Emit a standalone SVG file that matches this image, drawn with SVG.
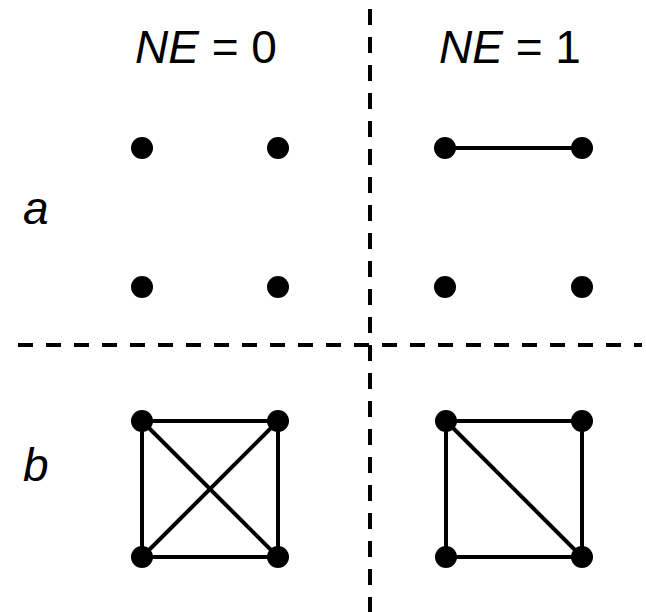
<svg xmlns="http://www.w3.org/2000/svg" width="646" height="612" viewBox="0 0 646 612">
<style>
.lbl{font-family:"Liberation Sans",Arial,sans-serif;font-size:46px;fill:#000}
.it{font-style:italic}
.edge{stroke:#000;stroke-width:4;fill:none}
.dash{stroke:#000;stroke-width:4;fill:none}
.node{fill:#000}
</style>
<rect width="646" height="612" fill="#fff"/>
<g id="dividers">
<line class="dash" x1="370" y1="9" x2="370" y2="612" stroke-dasharray="16 12"/>
<line class="dash" x1="18" y1="345" x2="642" y2="345" stroke-dasharray="15 13"/>
</g>
<g id="labels">
<text class="lbl" x="135" y="63"><tspan class="it">NE</tspan> = 0</text>
<text class="lbl" x="439" y="63"><tspan class="it">NE</tspan> = 1</text>
<text class="lbl it" x="23" y="224">a</text>
<text class="lbl it" x="23" y="481">b</text>
</g>
<g id="connectors">
<line class="edge" x1="445" y1="148" x2="582" y2="148"/>
<line class="edge" x1="142" y1="421" x2="278" y2="421"/>
<line class="edge" x1="142" y1="557" x2="278" y2="557"/>
<line class="edge" x1="142" y1="421" x2="142" y2="557"/>
<line class="edge" x1="278" y1="421" x2="278" y2="557"/>
<line class="edge" x1="142" y1="421" x2="278" y2="557"/>
<line class="edge" x1="278" y1="421" x2="142" y2="557"/>
<line class="edge" x1="446" y1="421" x2="582" y2="421"/>
<line class="edge" x1="446" y1="557" x2="582" y2="557"/>
<line class="edge" x1="446" y1="421" x2="446" y2="557"/>
<line class="edge" x1="582" y1="421" x2="582" y2="557"/>
<line class="edge" x1="446" y1="421" x2="582" y2="557"/>
</g>
<g id="a0-tl"><circle class="node" cx="142" cy="148" r="11"/></g>
<g id="a0-tr"><circle class="node" cx="278" cy="148" r="11"/></g>
<g id="a0-bl"><circle class="node" cx="142" cy="287" r="11"/></g>
<g id="a0-br"><circle class="node" cx="278" cy="287" r="11"/></g>
<g id="a1-tl"><circle class="node" cx="445" cy="148" r="11"/></g>
<g id="a1-tr"><circle class="node" cx="582" cy="148" r="11"/></g>
<g id="a1-bl"><circle class="node" cx="445" cy="287" r="11"/></g>
<g id="a1-br"><circle class="node" cx="582" cy="287" r="11"/></g>
<g id="b0-tl"><circle class="node" cx="142" cy="421" r="11"/></g>
<g id="b0-tr"><circle class="node" cx="278" cy="421" r="11"/></g>
<g id="b0-bl"><circle class="node" cx="142" cy="557" r="11"/></g>
<g id="b0-br"><circle class="node" cx="278" cy="557" r="11"/></g>
<g id="b1-tl"><circle class="node" cx="446" cy="421" r="11"/></g>
<g id="b1-tr"><circle class="node" cx="582" cy="421" r="11"/></g>
<g id="b1-bl"><circle class="node" cx="446" cy="557" r="11"/></g>
<g id="b1-br"><circle class="node" cx="582" cy="557" r="11"/></g>
</svg>
